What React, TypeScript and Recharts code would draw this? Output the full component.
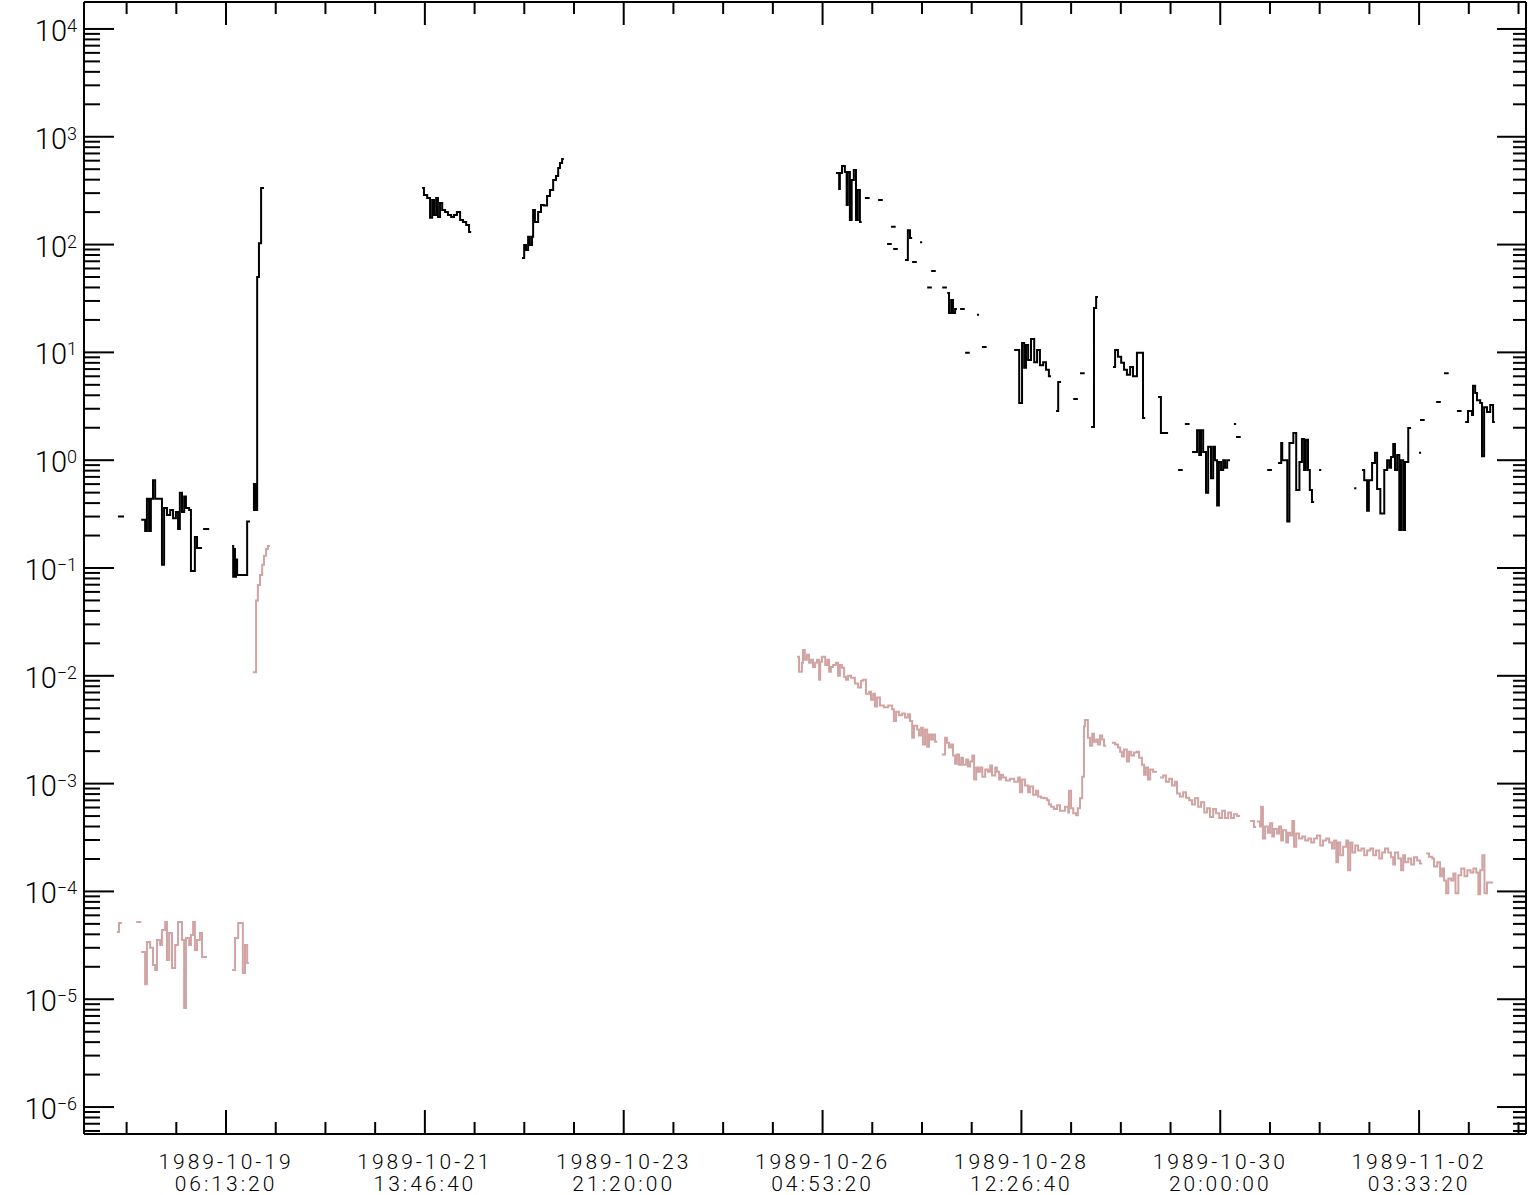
import { LineChart, Line, XAxis, YAxis } from "recharts";

// hours after 1989-10-19 06:13:20 UT, flux; each inner list is one unbroken run
const upperChannel: [number, number][][] = [
  [[-30.2, 0.3], [-28.5, 0.3]],
  [[-23.7, 0.28], [-22.6, 0.22], [-22.1, 0.44], [-21.5, 0.22], [-21.0, 0.44], [-20.4, 0.65], [-19.8, 0.44], [-17.9, 0.107], [-17.3, 0.36], [-16.5, 0.31], [-15.6, 0.345], [-14.8, 0.29], [-14.0, 0.33], [-13.4, 0.23], [-12.9, 0.5], [-12.3, 0.33], [-11.7, 0.46], [-11.2, 0.36], [-10.3, 0.345], [-9.8, 0.094], [-8.7, 0.194], [-8.1, 0.153], [-6.7, 0.153]],
  [[-6.4, 0.23], [-4.7, 0.23]],
  [[1.7, 0.16], [2.0, 0.083], [2.2, 0.15], [2.5, 0.083], [2.8, 0.12], [3.1, 0.086], [5.9, 0.27], [6.7, 0.27]],
  [[7.5, 0.6], [7.8, 0.345], [8.1, 0.6], [8.4, 0.345], [8.7, 50], [9.2, 103], [9.8, 335], [10.6, 335]],
  [[54.8, 335], [55.3, 288], [56.2, 271], [57.0, 177], [57.6, 259], [58.1, 188], [58.7, 271], [59.2, 180], [59.8, 243], [60.4, 209], [61.2, 200], [62.0, 188], [62.9, 180], [63.7, 188], [64.5, 200], [65.4, 169], [66.2, 162], [67.1, 152], [67.9, 131], [68.5, 131]],
  [[82.7, 75], [83.3, 99], [83.8, 89], [84.4, 118], [84.9, 99], [85.5, 118], [85.8, 209], [86.3, 162], [87.2, 200], [88.0, 233], [88.8, 230], [89.7, 282], [90.5, 321], [91.4, 397], [92.2, 433], [92.8, 514], [93.3, 572], [93.9, 622], [94.4, 622]],
  [[170.4, 461], [171.3, 328], [171.5, 461], [172.1, 536], [172.9, 471], [173.4, 233], [173.7, 471], [174.3, 169], [174.8, 397], [175.4, 492], [176.0, 169], [176.5, 321], [177.1, 162], [177.6, 162]],
  [[178.5, 271], [179.8, 271]],
  [[182.2, 259], [183.5, 259]],
  [[184.7, 101], [186.0, 101]],
  [[185.8, 146], [187.1, 146]],
  [[186.4, 91], [187.7, 91]],
  [[189.7, 72], [190.5, 136], [191.1, 115], [191.7, 115]],
  [[191.7, 69], [193.0, 69]],
  [[193.9, 105], [194.5, 105]],
  [[195.9, 40], [197.2, 40]],
  [[197.0, 57], [198.3, 57]],
  [[200.1, 40], [201.4, 40]],
  [[201.5, 35.6], [202.0, 23.2], [202.6, 30.6], [203.1, 23.2], [203.7, 25.3], [204.2, 25.3]],
  [[205.1, 25.3], [206.4, 25.3]],
  [[206.5, 9.9], [207.8, 9.9]],
  [[209.8, 22.3], [210.4, 22.3]],
  [[211.2, 11.2], [212.5, 11.2]],
  [[220.2, 10.5], [221.6, 3.4], [222.4, 12.2], [223.0, 7.2], [223.5, 11.7], [224.1, 8.5], [224.9, 13.3], [225.8, 8.1], [226.6, 10.5], [227.4, 7.6], [228.3, 8.1], [229.1, 6.9], [229.9, 6.0], [230.5, 6.0]],
  [[231.9, 2.86], [232.5, 5.3], [233.3, 5.3]],
  [[236.7, 3.7], [238.0, 3.7]],
  [[238.6, 6.4], [239.9, 6.4]],
  [[241.7, 2.03], [242.5, 25.8], [243.1, 32.7], [243.6, 32.7]],
  [[247.8, 7.3], [248.4, 10.5], [249.2, 9.1], [250.1, 8.0], [250.9, 6.9], [251.7, 6.2], [252.6, 7.3], [253.4, 6.0], [254.5, 9.9], [256.2, 2.46], [256.8, 2.46]],
  [[260.4, 3.86], [261.2, 1.79], [263.2, 1.79]],
  [[266.0, 0.81], [267.3, 0.81]],
  [[267.9, 2.17], [269.2, 2.17]],
  [[269.9, 1.19], [271.3, 1.9], [271.9, 1.12], [272.4, 1.9], [273.0, 1.19], [273.8, 0.5], [274.4, 1.33], [275.2, 0.68], [275.8, 1.33], [276.3, 1.0], [276.9, 0.38], [277.4, 0.96], [278.0, 0.81], [278.6, 1.0], [279.1, 0.85], [279.7, 1.0], [280.5, 1.0]],
  [[281.6, 2.17], [282.2, 2.17]],
  [[282.2, 1.64], [283.5, 1.64]],
  [[290.9, 0.81], [292.2, 0.81]],
  [[293.9, 0.94], [294.8, 1.44], [295.1, 1.0], [296.5, 0.27], [297.1, 1.44], [298.2, 1.79], [299.0, 0.53], [299.9, 0.96], [300.6, 1.57], [301.2, 0.81], [301.7, 1.55], [302.3, 0.81], [302.8, 0.53], [303.4, 0.41], [304.0, 0.41]],
  [[305.4, 0.81], [306.0, 0.81]],
  [[315.2, 0.55], [315.8, 0.55]],
  [[317.4, 0.81], [318.0, 0.65], [318.8, 0.34], [319.3, 0.65], [320.2, 0.94], [321.0, 1.17], [321.6, 0.54], [322.5, 0.32], [323.6, 0.81], [324.4, 1.0], [325.0, 0.85], [325.5, 1.07], [326.1, 1.41], [326.6, 0.81], [327.2, 1.12], [327.8, 0.225], [328.3, 1.0], [328.9, 0.225], [329.4, 0.96], [330.3, 1.99], [331.1, 1.99]],
  [[333.3, 1.17], [333.9, 1.17]],
  [[333.6, 2.36], [334.9, 2.36]],
  [[338.1, 3.47], [339.4, 3.47]],
  [[340.3, 6.4], [341.6, 6.4]],
  [[343.9, 2.86], [345.2, 2.86]],
  [[346.2, 2.26], [347.0, 2.86], [348.1, 2.62], [348.4, 4.9], [349.0, 4.2], [349.5, 3.6], [350.4, 3.4], [350.9, 1.09], [351.5, 3.1], [352.3, 2.8], [353.2, 3.25], [354.0, 2.26], [354.5, 2.26]],
];

const lowerChannel: [number, number][][] = [
  [[-30.5, 4.2e-5], [-29.9, 5.1e-5], [-29.1, 5.1e-5]],
  [[-25.1, 5.2e-5], [-23.7, 5.2e-5]],
  [[-23.7, 2.74e-5], [-22.6, 1.38e-5], [-22.1, 3.4e-5], [-21.2, 3.0e-5], [-20.4, 2.08e-5], [-19.8, 1.87e-5], [-19.3, 3.54e-5], [-18.4, 3.18e-5], [-17.9, 4.38e-5], [-17.0, 5.2e-5], [-16.5, 2.31e-5], [-15.9, 4.11e-5], [-15.1, 1.95e-5], [-14.2, 3.18e-5], [-13.4, 5.2e-5], [-12.3, 3.54e-5], [-11.7, 8.3e-6], [-11.2, 3.7e-5], [-10.3, 3.18e-5], [-9.8, 3.94e-5], [-9.2, 5.2e-5], [-8.7, 2.86e-5], [-8.1, 3.54e-5], [-7.3, 4.11e-5], [-6.7, 2.46e-5], [-5.3, 2.46e-5]],
  [[1.7, 1.87e-5], [2.5, 3.7e-5], [3.4, 5.1e-5], [4.7, 1.75e-5], [5.3, 3.18e-5], [5.9, 2.17e-5], [6.4, 2.17e-5]],
  [[7.5, 0.0108], [8.4, 0.05], [8.9, 0.0695], [9.5, 0.086], [10.1, 0.107], [10.6, 0.13], [11.2, 0.15], [11.7, 0.16], [12.3, 0.16]],
  [[159.5, 1.5e-2], [160.1, 1.09e-2], [160.9, 1.32e-2], [161.2, 1.74e-2], [161.7, 1.41e-2], [162.3, 1.57e-2], [162.9, 1.32e-2], [163.4, 1.41e-2], [164.0, 1.21e-2], [164.6, 1.32e-2], [165.1, 1.41e-2], [165.7, 9.2e-3], [166.0, 1.35e-2], [166.5, 1.5e-2], [167.4, 1.26e-2], [168.0, 1.41e-2], [168.5, 1.09e-2], [169.0, 1.21e-2], [169.6, 1.26e-2], [170.4, 1.32e-2], [171.0, 1.0e-2], [171.5, 1.26e-2], [172.1, 1.19e-2], [172.7, 9.8e-3], [173.2, 9.2e-3], [173.8, 1.0e-2], [174.6, 9.6e-3], [175.7, 8.5e-3], [176.6, 7.8e-3], [177.4, 9.0e-3], [178.0, 9.2e-3], [178.8, 6.8e-3], [179.7, 7.1e-3], [180.2, 6.0e-3], [180.8, 6.8e-3], [181.3, 5.2e-3], [181.9, 6.3e-3], [182.7, 5.3e-3], [183.8, 5.1e-3], [185.0, 5.3e-3], [186.1, 4.9e-3], [186.6, 3.8e-3], [187.2, 4.65e-3], [188.0, 4.3e-3], [188.9, 4.46e-3], [189.7, 4.1e-3], [190.5, 4.4e-3], [191.1, 3.8e-3], [191.7, 2.67e-3], [192.2, 3.45e-3], [193.1, 3.17e-3], [193.6, 2.8e-3], [194.2, 3.3e-3], [194.7, 2.3e-3], [195.3, 3.17e-3], [195.9, 2.2e-3], [196.4, 2.85e-3], [197.0, 2.56e-3], [197.5, 2.85e-3], [198.1, 2.45e-3], [198.7, 2.45e-3]],
  [[200.0, 1.86e-3], [200.9, 2.67e-3], [201.4, 2.4e-3], [202.0, 2.16e-3], [202.6, 2.3e-3], [203.1, 1.82e-3], [203.7, 1.53e-3], [204.2, 1.86e-3], [204.8, 1.5e-3], [205.4, 1.74e-3], [205.9, 1.5e-3], [206.8, 1.67e-3], [207.3, 1.44e-3], [207.9, 1.6e-3], [208.5, 1.82e-3], [209.0, 1.09e-3], [209.6, 1.41e-3], [210.1, 1.29e-3], [210.7, 1.41e-3], [211.3, 1.16e-3], [212.1, 1.35e-3], [212.9, 1.29e-3], [213.5, 1.47e-3], [214.0, 1.19e-3], [214.9, 1.41e-3], [215.4, 1.29e-3], [216.0, 1.09e-3], [216.5, 1.21e-3], [217.1, 1.14e-3], [217.9, 1.07e-3], [219.0, 1.11e-3], [220.2, 1.04e-3], [221.3, 1.14e-3], [221.8, 8.3e-4], [222.4, 1.09e-3], [223.2, 9.6e-4], [224.1, 8.3e-4], [224.6, 9.4e-4], [225.5, 7.9e-4], [226.3, 8.6e-4], [226.9, 7.6e-4], [227.7, 7.4e-4], [228.5, 7.3e-4], [229.4, 7.0e-4], [229.9, 6.4e-4], [230.5, 6.1e-4], [231.3, 5.8e-4], [232.2, 6.3e-4], [233.0, 5.6e-4], [233.9, 5.6e-4], [234.4, 6.1e-4], [235.3, 5.4e-4], [235.5, 8.6e-4], [236.1, 5.9e-4], [236.7, 5.3e-4], [237.5, 5.1e-4], [238.0, 5.9e-4], [238.6, 7.3e-4], [239.2, 1.16e-3], [239.7, 3.4e-3], [240.0, 3.9e-3], [240.8, 2.67e-3], [241.4, 2.25e-3], [242.0, 2.9e-3], [242.5, 2.45e-3], [243.1, 2.56e-3], [243.6, 2.3e-3], [244.2, 2.8e-3], [244.8, 2.56e-3], [245.3, 2.25e-3], [245.9, 2.25e-3]],
  [[247.5, 2.4e-3], [248.4, 2.3e-3], [249.2, 2.16e-3], [249.8, 1.98e-3], [250.3, 1.78e-3], [250.9, 2.07e-3], [251.7, 1.6e-3], [252.3, 1.98e-3], [252.9, 1.82e-3], [253.7, 1.94e-3], [254.5, 1.98e-3], [255.1, 1.74e-3], [255.9, 1.5e-3], [256.5, 1.21e-3], [257.0, 1.41e-3], [257.6, 1.09e-3], [258.2, 1.35e-3], [259.0, 1.29e-3], [260.1, 1.29e-3]],
  [[261.0, 1.14e-3], [261.8, 1.19e-3], [262.6, 1.04e-3], [263.5, 1.11e-3], [264.3, 9.6e-4], [265.1, 1.04e-3], [265.7, 8.1e-4], [266.5, 7.6e-4], [267.4, 8.3e-4], [268.2, 7.4e-4], [269.1, 7.0e-4], [269.9, 6.4e-4], [270.7, 7.3e-4], [271.6, 6.1e-4], [272.4, 6.7e-4], [273.3, 5.4e-4], [274.1, 5.9e-4], [274.9, 4.9e-4], [275.8, 5.8e-4], [276.6, 5.3e-4], [277.5, 4.8e-4], [278.3, 5.6e-4], [279.1, 4.8e-4], [280.0, 5.4e-4], [280.8, 4.8e-4], [281.6, 5.2e-4], [282.5, 5.0e-4], [283.3, 5.0e-4]],
  [[286.1, 4.5e-4], [287.2, 3.95e-4], [287.8, 3.95e-4]],
  [[288.0, 4.46e-4], [288.9, 4.0e-4], [289.2, 6.1e-4], [289.7, 3.1e-4], [290.3, 4.0e-4], [291.1, 3.5e-4], [291.7, 4.3e-4], [292.3, 3.24e-4], [292.8, 3.8e-4], [293.6, 3.45e-4], [294.2, 4.0e-4], [294.8, 2.97e-4], [295.3, 3.7e-4], [296.2, 2.85e-4], [296.7, 3.5e-4], [297.3, 3.3e-4], [297.9, 4.5e-4], [298.4, 2.6e-4], [299.0, 3.45e-4], [299.8, 3.1e-4], [300.7, 3.24e-4], [301.5, 2.97e-4], [302.4, 3.1e-4], [303.2, 2.85e-4], [304.0, 3.1e-4], [304.8, 3.3e-4], [305.7, 2.67e-4], [306.5, 2.97e-4], [307.4, 3.1e-4], [308.2, 2.85e-4], [309.0, 2.5e-4], [309.6, 2.97e-4], [310.2, 1.86e-4], [310.7, 2.85e-4], [311.3, 2.16e-4], [312.1, 2.6e-4], [313.0, 2.97e-4], [313.5, 1.57e-4], [314.1, 2.85e-4], [314.7, 2.3e-4], [315.5, 2.67e-4], [316.3, 2.4e-4], [317.2, 2.5e-4], [318.0, 2.16e-4], [318.8, 2.4e-4], [319.7, 2.5e-4], [320.5, 2.16e-4], [321.3, 2.4e-4], [322.2, 2.02e-4], [323.0, 2.3e-4], [323.8, 2.5e-4], [324.7, 2.3e-4], [325.5, 2.07e-4], [326.1, 1.78e-4], [326.6, 2.3e-4], [327.5, 2.02e-4], [328.3, 1.57e-4], [328.9, 2.16e-4], [329.4, 1.86e-4], [330.3, 2.02e-4], [331.1, 1.78e-4], [331.9, 2.07e-4], [332.8, 1.94e-4], [333.6, 1.82e-4], [334.2, 1.82e-4]],
  [[335.3, 2.25e-4], [336.1, 2.1e-4], [337.0, 2.02e-4], [337.5, 1.7e-4], [338.4, 1.86e-4], [339.2, 1.38e-4], [339.8, 1.63e-4], [340.3, 1.26e-4], [340.9, 9.6e-5], [341.5, 1.32e-4], [342.3, 1.26e-4], [342.9, 1.47e-4], [343.5, 9.6e-5], [344.3, 1.41e-4], [345.1, 1.63e-4], [346.0, 1.38e-4], [346.8, 1.57e-4], [347.7, 1.5e-4], [348.5, 1.63e-4], [349.3, 1.5e-4], [349.9, 9.4e-5], [350.4, 1.57e-4], [351.0, 2.16e-4], [351.6, 9.6e-5], [352.3, 1.21e-4], [353.2, 1.21e-4], [354.0, 1.21e-4]],
];

const T0 = Date.UTC(1989, 9, 19, 6, 13, 20);
const MINOR_HOURS = 200000 / 3600 / 4; // 4 minor steps per labelled tick
const X_DOMAIN: [number, number] = [-39.68, 363.2];
const Y_DOMAIN: [number, number] = [Math.pow(10, -6.25), Math.pow(10, 4.25)];

const xTicks = Array.from({ length: 29 }, (_, i) => (i - 2) * MINOR_HOURS);
const yTicks: number[] = [];
for (let e = -7; e <= 4; e++) {
  for (let m = 1; m <= 9; m++) {
    const v = Number(`${m}e${e}`);
    if (v >= Y_DOMAIN[0] && v <= Y_DOMAIN[1]) yTicks.push(v);
  }
}

const FONT = "Roboto, 'Liberation Sans', sans-serif";

function toRows(segs: [number, number][][]) {
  const rows: { t: number; v: number | null }[] = [];
  segs.forEach((seg) => {
    seg.forEach(([t, v]) => rows.push({ t, v }));
    rows.push({ t: seg[seg.length - 1][0], v: null });
  });
  return rows;
}

const upperRows = toRows(upperChannel);
const lowerRows = toRows(lowerChannel);

function isMajorX(h: number) {
  return Math.round(h / MINOR_HOURS) % 4 === 0;
}

function isDecade(v: number) {
  const l = Math.log10(v);
  return Math.abs(l - Math.round(l)) < 1e-6;
}

function stamp(h: number) {
  const d = new Date(T0 + Math.round(h * 3600) * 1000);
  const p = (n: number) => String(n).padStart(2, "0");
  return [
    `${d.getUTCFullYear()}-${p(d.getUTCMonth() + 1)}-${p(d.getUTCDate())}`,
    `${p(d.getUTCHours())}:${p(d.getUTCMinutes())}:${p(d.getUTCSeconds())}`,
  ];
}

function BottomTick({ x, y, payload }: any) {
  const major = isMajorX(payload.value);
  const [day, time] = stamp(payload.value);
  const textProps = {
    x,
    textAnchor: "middle" as const,
    fontFamily: FONT,
    fontWeight: 300,
    fontSize: 21,
    letterSpacing: 3,
    fill: "#000",
  };
  return (
    <g>
      <line x1={x} x2={x} y1={y} y2={y - (major ? 24 : 12)} stroke="#000" strokeWidth={2} />
      {major && <text {...textProps} y={y + 35}>{day}</text>}
      {major && <text {...textProps} y={y + 57}>{time}</text>}
    </g>
  );
}

function TopTick({ x, y, payload }: any) {
  const major = isMajorX(payload.value);
  return <line x1={x} x2={x} y1={y} y2={y + (major ? 23 : 12)} stroke="#000" strokeWidth={2} />;
}

function LeftTick({ x, y, payload }: any) {
  const v = payload.value;
  const major = isDecade(v);
  const e = Math.round(Math.log10(v));
  return (
    <g>
      <line x1={x} x2={x + (major ? 30 : 16)} y1={y} y2={y} stroke="#000" strokeWidth={2} />
      {major && (
        <text x={x - 7} y={y + 12} textAnchor="end" fontFamily={FONT} fontWeight={300} fontSize={29} fill="#000">
          10
          <tspan dy={-9} fontSize={18}>{e < 0 ? `\u2212${-e}` : `${e}`}</tspan>
        </text>
      )}
    </g>
  );
}

function RightTick({ x, y, payload }: any) {
  const major = isDecade(payload.value);
  return <line x1={x} x2={x - (major ? 29 : 13)} y1={y} y2={y} stroke="#000" strokeWidth={2} />;
}

const axisLine = { stroke: "#000", strokeWidth: 2 };

export default function App() {
  return (
    <div style={{ position: "absolute", left: 0, top: 0, background: "#fff" }}>
      <LineChart width={1528} height={1195} margin={{ top: 0, right: 0, bottom: 0, left: 0 }}>
        <XAxis
          dataKey="t"
          type="number"
          domain={X_DOMAIN}
          allowDataOverflow
          ticks={xTicks}
          interval={0}
          tick={<BottomTick />}
          tickLine={false}
          tickSize={0}
          tickMargin={0}
          axisLine={axisLine}
          height={61}
        />
        <XAxis
          xAxisId="top"
          orientation="top"
          dataKey="t"
          type="number"
          domain={X_DOMAIN}
          allowDataOverflow
          ticks={xTicks}
          interval={0}
          tick={<TopTick />}
          tickLine={false}
          tickSize={0}
          tickMargin={0}
          axisLine={axisLine}
          height={2}
        />
        <YAxis
          scale="log"
          type="number"
          domain={Y_DOMAIN}
          allowDataOverflow
          ticks={yTicks}
          interval={0}
          tick={<LeftTick />}
          tickLine={false}
          tickSize={0}
          tickMargin={0}
          axisLine={axisLine}
          width={84}
        />
        <YAxis
          yAxisId="right"
          orientation="right"
          scale="log"
          type="number"
          domain={Y_DOMAIN}
          allowDataOverflow
          ticks={yTicks}
          interval={0}
          tick={<RightTick />}
          tickLine={false}
          tickSize={0}
          tickMargin={0}
          axisLine={axisLine}
          width={2}
        />
        <Line
          data={lowerRows}
          dataKey="v"
          type="stepAfter"
          stroke="#d2a3a3"
          strokeWidth={2}
          dot={false}
          activeDot={false}
          connectNulls={false}
          isAnimationActive={false}
        />
        <Line
          data={upperRows}
          dataKey="v"
          type="stepAfter"
          stroke="#000"
          strokeWidth={2}
          dot={false}
          activeDot={false}
          connectNulls={false}
          isAnimationActive={false}
        />
      </LineChart>
    </div>
  );
}
